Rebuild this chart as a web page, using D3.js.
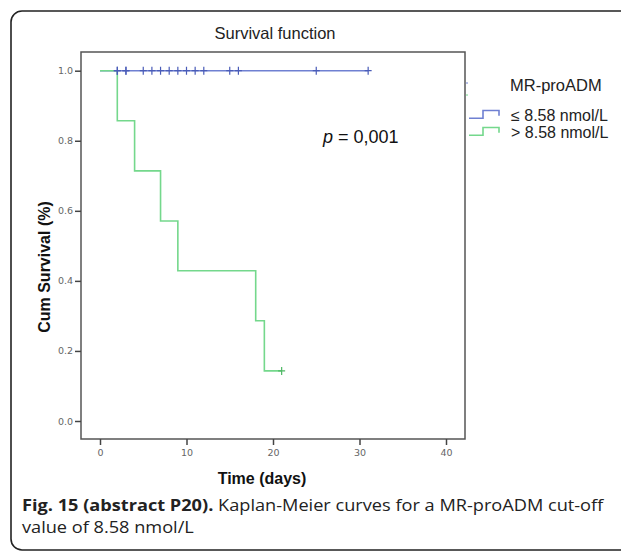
<!DOCTYPE html>
<html>
<head>
<meta charset="utf-8">
<script src="https://cdn.jsdelivr.net/npm/d3@7"></script>
<style>
  html, body { margin: 0; padding: 0; background: #fff; }
  svg { display: block; }
</style>
</head>
<body>
<svg id="chart" width="621" height="551"></svg>
<script>
// Kaplan-Meier survival by MR-proADM group
const xTicks = [0, 10, 20, 30, 40];
const yTicks = [0.0, 0.2, 0.4, 0.6, 0.8, 1.0];

// Group ≤ 8.58 nmol/L: no deaths, all censored
const lowEndDay = 31;
const lowCensorDays = [2, 2, 3, 3, 5, 6, 7, 8, 9, 10, 11, 12, 15, 16, 25, 31];

// Group > 8.58 nmol/L: 7 patients
const highEventDays = [2, 4, 7, 9, 18, 19];
const highSurvival = [0.857, 0.714, 0.571, 0.429, 0.286, 0.143];
const highEndDay = 21;
const highCensorDays = [21];

const legendLabels = ["≤ 8.58 nmol/L", "> 8.58 nmol/L"];
const seriesColors = ["#6f80d2", "#74d88c"];
const censorColors = ["#4a5cb8", "#4fb865"];

const svg = d3.select("#chart");
const font = "'Liberation Sans', Arial, sans-serif";

// outer frame
svg.append("rect")
  .attr("x", 11).attr("y", 11)
  .attr("width", 640).attr("height", 539)
  .attr("rx", 11).attr("ry", 11)
  .attr("fill", "none").attr("stroke", "#222").attr("stroke-width", 1.6);

const plot = { left: 81, right: 465, top: 52, bottom: 439 };

const x = d3.scaleLinear().domain([0, 40]).range([100, 446]);
const y = d3.scaleLinear().domain([0, 1]).range([421, 70.7]);

// plot box
svg.append("rect")
  .attr("x", plot.left).attr("y", plot.top)
  .attr("width", plot.right - plot.left).attr("height", plot.bottom - plot.top)
  .attr("fill", "none").attr("stroke", "#555").attr("stroke-width", 1.5);

// axes
const yAxis = svg.append("g")
  .attr("transform", `translate(${plot.left},0)`)
  .call(d3.axisLeft(y).tickValues(yTicks).tickFormat(d3.format(".1f")).tickSize(6).tickPadding(2));
const xAxis = svg.append("g")
  .attr("transform", `translate(0,${plot.bottom})`)
  .call(d3.axisBottom(x).tickValues(xTicks).tickFormat(d3.format("d")).tickSize(6).tickPadding(4));
[xAxis, yAxis].forEach(g => {
  g.select(".domain").remove();
  g.selectAll("line").attr("stroke", "#444").attr("stroke-width", 1.5);
  g.selectAll("text").attr("fill", "#666").style("font-family", "'DejaVu Sans', sans-serif").style("font-size", "9.5px");
});

// survival curves
const stepLine = d3.line().x(d => x(d[0])).y(d => y(d[1])).curve(d3.curveStepAfter);

const lowPts = [[0, 1], [lowEndDay, 1]];
const highPts = [[0, 1]].concat(highEventDays.map((d, i) => [d, highSurvival[i]]), [[highEndDay, highSurvival[highSurvival.length - 1]]]);

svg.append("path").attr("d", stepLine(lowPts))
  .attr("fill", "none").attr("stroke", seriesColors[0]).attr("stroke-width", 1.6);
svg.append("path").attr("d", stepLine(highPts))
  .attr("fill", "none").attr("stroke", seriesColors[1]).attr("stroke-width", 1.6);

function censorMarks(days, level, color) {
  svg.append("g").selectAll("path").data(days).join("path")
    .attr("d", d => `M${x(d)},${y(level) - 4}V${y(level) + 4}M${x(d) - 3.5},${y(level)}H${x(d) + 3.5}`)
    .attr("stroke", color).attr("stroke-width", 1.2).attr("fill", "none");
}
censorMarks(lowCensorDays, 1, censorColors[0]);
censorMarks(highCensorDays, highSurvival[highSurvival.length - 1], censorColors[1]);

// title
svg.append("text").attr("x", 275).attr("y", 39).attr("text-anchor", "middle")
  .style("font-family", font).style("font-size", "16.5px").attr("fill", "#222")
  .text("Survival function");

// axis titles
svg.append("text").attr("x", 262).attr("y", 484).attr("text-anchor", "middle")
  .style("font-family", font).style("font-size", "16px").style("font-weight", "bold").attr("fill", "#111")
  .text("Time (days)");
svg.append("text").attr("transform", "translate(50,267) rotate(-90)").attr("text-anchor", "middle")
  .style("font-family", font).style("font-size", "16px").style("font-weight", "bold").attr("fill", "#111")
  .text("Cum Survival (%)");

// p-value
const pText = svg.append("text").attr("x", 323).attr("y", 143)
  .style("font-family", font).style("font-size", "18px").attr("fill", "#111");
pText.append("tspan").style("font-style", "italic").text("p");
pText.append("tspan").text(" = 0,001");

// legend
svg.append("text").attr("x", 510).attr("y", 91)
  .style("font-family", font).style("font-size", "16.5px").attr("fill", "#222")
  .text("MR-proADM");
legendLabels.forEach((lab, i) => {
  const base = 118.3 + i * 17;
  const top = base - 7.8;
  svg.append("path")
    .attr("d", `M469,${base}H483V${top}H499V${base - 2.5}`)
    .attr("fill", "none").attr("stroke", seriesColors[i]).attr("stroke-width", 1.6);
  svg.append("text").attr("x", 511).attr("y", base + 2.5)
    .style("font-family", font).style("font-size", "16px").attr("fill", "#222")
    .text(lab);
  svg.append("line")
    .attr("x1", 466).attr("x2", 468).attr("y1", 83 + i * 12).attr("y2", 83 + i * 12)
    .attr("stroke", seriesColors[i]).attr("stroke-width", 1);
});

// caption
const capFont = "'Open Sans', 'Noto Sans', sans-serif";
const cap1 = svg.append("text").attr("x", 22).attr("y", 511)
  .style("font-family", capFont).style("font-size", "15.5px").attr("fill", "#222");
cap1.append("tspan").style("font-weight", "bold").text("Fig. 15 (abstract P20).");
cap1.append("tspan").text(" Kaplan-Meier curves for a MR-proADM cut-off");
const cap2 = svg.append("text").attr("x", 22).attr("y", 533)
  .style("font-family", capFont).style("font-size", "15.5px").attr("fill", "#222")
  .text("value of 8.58 nmol/L");

// fit first caption line to its width, apply same condensing to second line
const w1 = cap1.node().getComputedTextLength();
const sx = 582 / w1;
cap1.attr("transform", `translate(22,0) scale(${sx},1) translate(-22,0)`);
cap2.attr("transform", `translate(22,0) scale(${sx},1) translate(-22,0)`);
</script>
</body>
</html>
